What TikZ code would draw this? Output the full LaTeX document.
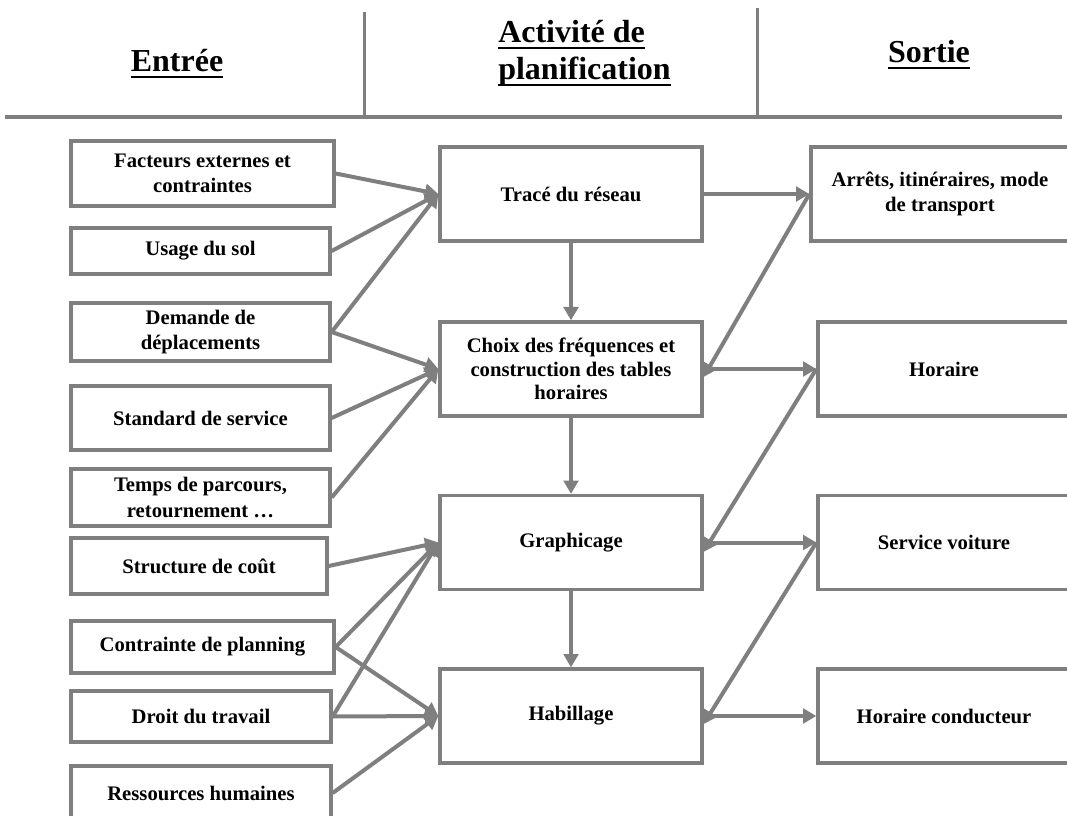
\documentclass[tikz,border=0pt]{standalone}
\usepackage{fontspec}
\setmainfont{Liberation Serif}
\usetikzlibrary{arrows.meta}
\definecolor{lgray}{RGB}{127,127,127}
\newsavebox{\ulnbox}
\newcommand{\uln}[1]{\sbox{\ulnbox}{#1}\rlap{\rule[-4.5pt]{\wd\ulnbox}{1.5pt}}\usebox{\ulnbox}}
\begin{document}
\begin{tikzpicture}[x=0.75pt,y=0.75pt,yscale=-1,xscale=1,
  box/.style={draw=lgray,line width=2.5pt,fill=white,inner sep=0pt,align=center,font=\bfseries\fontsize{15.5pt}{19pt}\selectfont},
  inbox/.style={box,minimum width=194.25pt},
  midbox/.style={box,minimum width=196.5pt,minimum height=70.5pt},
  outbox/.style={box,minimum width=189pt,minimum height=70.5pt},
  flow/.style={draw=lgray,line width=3pt,-{Triangle[length=10pt,width=11pt]}},
  rule/.style={draw=lgray,line width=3pt},
  head/.style={inner sep=0pt,font=\bfseries\fontsize{24pt}{27.75pt}\selectfont}]
\useasboundingbox (0,0) rectangle (1067,816);
\draw [rule] (5,117) -- (1062,117) ;
\draw [rule,line width=2.25pt] (364,12) -- (364,117) ;
\draw [rule,line width=2.25pt] (757,8) -- (757,117) ;
\node [head,anchor=base] (entree) at (177,72) {\uln{Entrée}};
\node [head,anchor=base west,align=left] (activite) at (498,80) {\uln{Activité de}\\\uln{planification}};
\node [head,anchor=base] (sortie) at (929,63) {\uln{Sortie}};
\node [inbox,minimum width=197.25pt,minimum height=48.75pt] (facteurs) at (202.5,173.5) {Facteurs externes et\\contraintes};
\node [inbox,minimum height=34.5pt] (usage) at (200.5,251) {Usage du sol};
\node [inbox,minimum height=43.5pt] (demande) at (200.5,332) {Demande de\\déplacements};
\node [inbox,minimum height=48pt] (standard) at (200.5,418) {Standard de service};
\node [inbox,minimum height=42.75pt] (temps) at (200.5,497.5) {Temps de parcours,\\retournement …};
\node [inbox,minimum width=192pt,minimum height=42pt] (structure) at (199,566) {Structure de coût};
\node [inbox,minimum width=197.25pt,minimum height=39pt] (contrainte) at (202.5,647) {Contrainte de planning};
\node [inbox,minimum width=195pt,minimum height=38.25pt] (droit) at (201,716.5) {Droit du travail};
\node [inbox,minimum width=195pt,minimum height=40.5pt] (ressources) at (201,793) {Ressources humaines};
\node [midbox] (trace) at (571,194) {Tracé du réseau};
\node [midbox,font=\bfseries\fontsize{15.5pt}{17.5pt}\selectfont] (choix) at (571,369) {Choix des fréquences et\\construction des tables\\horaires};
\node [midbox] (graph) at (571,542.5) {Graphicage};
\node [midbox] (habil) at (571,716) {Habillage};
\node [outbox,minimum width=193.5pt] (arrets) at (940,194) {Arrêts, itinéraires, mode\\de transport};
\node [outbox] (horaire) at (944,369) {Horaire};
\node [outbox] (service) at (944,542.5) {Service voiture};
\node [outbox] (conducteur) at (944,716) {Horaire conducteur};
\draw [flow] (facteurs.east) -- (trace.west) ;
\draw [flow] (usage.east) -- (trace.west) ;
\draw [flow] (demande.east) -- (trace.west) ;
\draw [flow] (demande.east) -- (choix.west) ;
\draw [flow] (standard.east) -- (choix.west) ;
\draw [flow] (temps.east) -- (choix.west) ;
\draw [flow] (structure.east) -- (graph.west) ;
\draw [flow] (contrainte.east) -- (graph.west) ;
\draw [flow] (droit.east) -- (graph.west) ;
\draw [flow] (contrainte.east) -- (habil.west) ;
\draw [flow] (droit.east) -- (habil.west) ;
\draw [flow] (ressources.east) -- (habil.west) ;
\draw [flow] (trace.south) -- (choix.north) ;
\draw [flow] (choix.south) -- (graph.north) ;
\draw [flow] (graph.south) -- (habil.north) ;
\draw [flow] (trace.east) -- (arrets.west) ;
\draw [flow] (choix.east) -- (horaire.west) ;
\draw [flow] (graph.east) -- (service.west) ;
\draw [flow] (habil.east) -- (conducteur.west) ;
\draw [flow] (arrets.west) -- ([yshift=6pt]choix.east) ;
\draw [flow] (horaire.west) -- ([yshift=7pt]graph.east) ;
\draw [flow] (service.west) -- ([yshift=6pt]habil.east) ;
\end{tikzpicture}
\end{document}
